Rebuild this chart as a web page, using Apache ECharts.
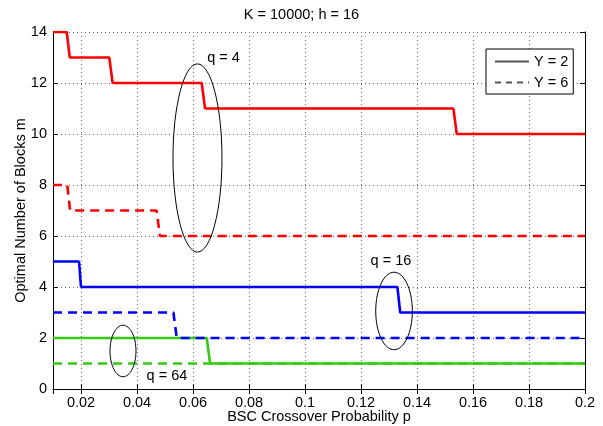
<!DOCTYPE html>
<html>
<head>
<meta charset="utf-8">
<script src="https://cdn.jsdelivr.net/npm/echarts@6/dist/echarts.min.js"></script>
<style>html,body{margin:0;padding:0;background:#fff}#c{width:603px;height:426px}</style>
</head>
<body>
<div id="c"></div>
<script>
// ---- data ----
var title = 'K = 10000; h = 16';
var xName = 'BSC Crossover Probability p';
var yName = 'Optimal Number of Blocks m';
var legendNames = ['Y = 2', 'Y = 6'];

// q = 4 (red)
var q4_Y2 = [[0.01,14],[0.0149,14],[0.0160,13],[0.0301,13],[0.0313,12],[0.0631,12],[0.0643,11],[0.1530,11],[0.1542,10],[0.2,10]];
var q4_Y6 = [[0.01,8],[0.0151,8],[0.0161,7],[0.0470,7],[0.0482,6],[0.2,6]];
// q = 16 (blue)
var q16_Y2 = [[0.01,5],[0.0193,5],[0.0200,4],[0.1330,4],[0.1340,3],[0.2,3]];
var q16_Y6 = [[0.01,3],[0.0530,3],[0.0542,2],[0.2,2]];
// q = 64 (green)
var q64_Y2 = [[0.01,2],[0.0649,2],[0.0661,1],[0.2,1]];
var q64_Y6 = [[0.01,1],[0.2,1]];

// annotations: ellipse centre / radii in data units, label positions
var annEllipses = [
  {c:[0.0616,9.06], r:[0.00875,3.69]},
  {c:[0.1318,3.06], r:[0.00654,1.52]},
  {c:[0.0350,1.49], r:[0.00464,1.01]}
];
var annLabels = [
  {text:'q = 4',  at:[0.0709,12.98]},
  {text:'q = 16', at:[0.1307,5.03]},
  {text:'q = 64', at:[0.0507,0.51]}
];

var FONT = 'Liberation Sans, Arial, Helvetica, sans-serif';
var FS = 14.5;
var RED = '#ff0000', BLUE = '#0000ff', GREEN = '#33cc11';
var DASH = [9,6];

function line(name, data, color, dashed, z) {
  return {
    type:'line', name:name, data:data, symbol:'none', z:z,
    lineStyle:{color:color, width:2.6, type: dashed ? DASH : 'solid'},
    itemStyle:{color:color}, animation:false, silent:true
  };
}

var chart = echarts.init(document.getElementById('c'), null, {renderer:'canvas'});
var axisText = {color:'#000', fontFamily:FONT, fontSize:FS};
var noSym = {opacity:0, color:'rgba(0,0,0,0)', borderWidth:0};
var option = {
  animation:false,
  title:{text:title, left:'center', top:2, textStyle:{fontFamily:FONT, fontSize:FS, fontWeight:'normal', color:'#000'}},
  grid:{left:53, right:18, top:32, bottom:37, containLabel:false, outerBoundsMode:'none'},
  legend:{
    data:[{name:legendNames[0], itemStyle:noSym},{name:legendNames[1], itemStyle:noSym}],
    orient:'vertical', left:486, top:49,
    itemWidth:34, itemHeight:14, itemGap:6,
    padding:[5,5,4,8],
    borderColor:'#000', borderWidth:1, backgroundColor:'#fff',
    textStyle:{fontFamily:FONT, fontSize:FS, color:'#000', lineHeight:14},
    selectedMode:false
  },
  xAxis:[{
    type:'value', min:0.01, max:0.2, splitNumber:10,
    name:xName, nameLocation:'middle', nameGap:20, nameMoveOverlap:false,
    nameTextStyle:{fontFamily:FONT, fontSize:FS, color:'#000'},
    axisLine:{show:true, lineStyle:{color:'#000', width:1}},
    axisTick:{show:true, inside:true, length:5, lineStyle:{color:'#000'}},
    axisLabel:Object.assign({margin:6, showMinLabel:false}, axisText),
    splitLine:{show:true, lineStyle:{color:'#666', type:[1,3], width:1}}
  },{
    type:'value', position:'top', min:0.01, max:0.2, splitNumber:10,
    axisLine:{show:true, lineStyle:{color:'#000', width:1}},
    axisTick:{show:true, inside:true, length:5, lineStyle:{color:'#000'}},
    axisLabel:{show:false}, splitLine:{show:false}
  }],
  yAxis:[{
    type:'value', min:0, max:14, interval:2,
    name:yName, nameLocation:'middle', nameGap:25, nameMoveOverlap:false,
    nameTextStyle:{fontFamily:FONT, fontSize:FS, color:'#000'},
    axisLine:{show:true, lineStyle:{color:'#000', width:1}},
    axisTick:{show:true, inside:true, length:5, lineStyle:{color:'#000'}},
    axisLabel:Object.assign({margin:6}, axisText),
    splitLine:{show:true, lineStyle:{color:'#666', type:[1,3], width:1}}
  },{
    type:'value', position:'right', min:0, max:14, interval:2,
    axisLine:{show:true, lineStyle:{color:'#000', width:1}},
    axisTick:{show:true, inside:true, length:5, lineStyle:{color:'#000'}},
    axisLabel:{show:false}, splitLine:{show:false}
  }],
  series:[
    line('g6', q64_Y6, GREEN, true, 2),
    line('g2', q64_Y2, GREEN, false, 2),
    line('b6', q16_Y6, BLUE, true, 3),
    line('b2', q16_Y2, BLUE, false, 3),
    line('r6', q4_Y6, RED, true, 4),
    line('r2', q4_Y2, RED, false, 4),
    {type:'line', name:legendNames[0], data:[], symbol:'none', lineStyle:{color:'#555', width:2, type:'solid'}, itemStyle:{color:'#555'}},
    {type:'line', name:legendNames[1], data:[], symbol:'none', lineStyle:{color:'#555', width:2, type:[6,5]}, itemStyle:{color:'#555'}}
  ]
};
chart.setOption(option);

function px(pt){ return chart.convertToPixel({xAxisIndex:0, yAxisIndex:0}, pt); }
var graphics = [];
annEllipses.forEach(function(e){
  var c = px(e.c);
  var ex = px([e.c[0]+e.r[0], e.c[1]]);
  var ey = px([e.c[0], e.c[1]+e.r[1]]);
  graphics.push({type:'ellipse', z:100, silent:true,
    shape:{cx:c[0], cy:c[1], rx:Math.abs(ex[0]-c[0]), ry:Math.abs(c[1]-ey[1])},
    style:{fill:null, stroke:'#000', lineWidth:1}});
});
annLabels.forEach(function(l){
  var p = px(l.at);
  graphics.push({type:'text', z:100, silent:true, x:p[0], y:p[1],
    style:{text:l.text, align:'center', verticalAlign:'middle', font:FS + 'px ' + FONT, fill:'#000'}});
});
chart.setOption({graphic:graphics});
</script>
</body>
</html>
